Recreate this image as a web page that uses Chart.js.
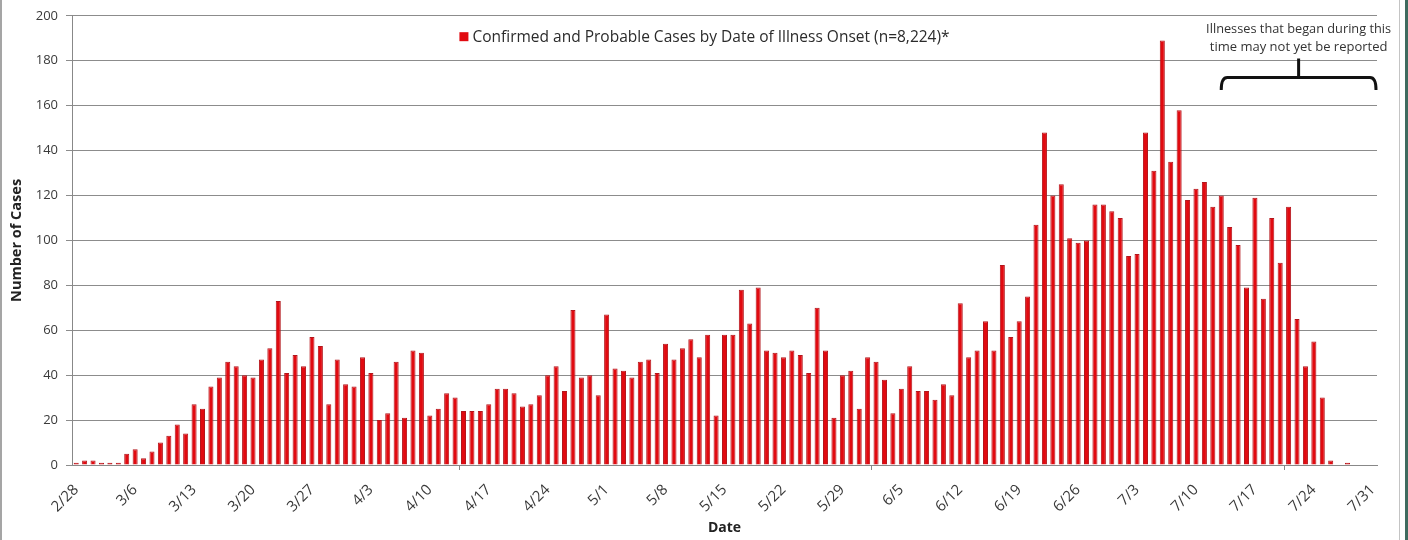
<!DOCTYPE html>
<html lang="en">
<head>
    <meta charset="UTF-8">
    <title>Confirmed and Probable Cases by Date of Illness Onset</title>
    <style>
        body { margin: 0; background: #fff; }
        .wrap { position: relative; width: 1408px; height: 540px; overflow: hidden; }
        .edge { position: absolute; top: 0; height: 540px; }
        .edge-l { left: 0; width: 2px; background: #a5a5a5; }
        .edge-r1 { left: 1399px; width: 1px; background: #c4c4c4; }
        .edge-r2 { left: 1405px; width: 3px; background: #3f6b5f; }
    </style>
</head>
<body>
<div class="wrap">
    <canvas id="chart"></canvas>
    <div class="edge edge-l"></div>
    <div class="edge edge-r1"></div>
    <div class="edge edge-r2"></div>
</div>

<script src="https://cdn.jsdelivr.net/npm/chart.js"></script>
<script>
    // dias 2/28 .. 7/31 (2020)
    const months = [['2', 28, 29], ['3', 1, 31], ['4', 1, 30], ['5', 1, 31], ['6', 1, 30], ['7', 1, 31]];
    const dates = [];
    for (const [m, a, b] of months) {
        for (let d = a; d <= b; d++) dates.push(m + '/' + d);
    }

    const cases = [
        1, 2, 2, 1, 1, 1, 5, 7, 3, 6, 10, 13, 18, 14, 27, 25, 35, 39, 46, 44,
        40, 39, 47, 52, 73, 41, 49, 44, 57, 53, 27, 47, 36, 35, 48, 41, 20, 23, 46, 21, 51, 50, 22, 25, 32, 30, 24,
        24, 24, 27, 34, 34, 32, 26, 27, 31, 40, 44, 33, 69, 39, 40, 31, 67, 43, 42, 39, 46, 47, 41, 54, 47, 52, 56, 48,
        58, 22, 58, 58, 78, 63, 79, 51, 50, 48, 51, 49, 41, 70, 51, 21, 40, 42, 25, 48, 46, 38, 23, 34, 44, 33, 33,
        29, 36, 31, 72, 48, 51, 64, 51, 89, 57, 64, 75, 107, 148, 120, 125, 101, 99, 100, 116, 116, 113, 110, 93, 94, 148, 131,
        189, 135, 158, 118, 123, 126, 115, 120, 106, 98, 79, 119, 74, 110, 90, 115, 65, 44, 55, 30, 2, 0, 1, 0, 0, 0
    ];

    const seriesLabel = 'Confirmed and Probable Cases by Date of Illness Onset (n=8,224)*';
    const noteLines = ['Illnesses that began during this', 'time may not yet be reported'];
    const noteFrom = '7/13';

    const RED = '#e10a10';

    // legenda e nota desenhadas dentro da area do grafico
    const overlay = {
        id: 'overlay',
        afterDraw(chart) {
            const {ctx, chartArea: area, scales: {x, y}} = chart;
            ctx.save();

            // legenda
            ctx.font = '15.5px "Open Sans", sans-serif';
            const tw = Math.min(ctx.measureText(seriesLabel).width, 482);
            const lx = (area.left + area.right) / 2 - 20 - (tw + 13) / 2;
            const ly = y.getPixelForValue(190.7);
            ctx.fillStyle = RED;
            ctx.fillRect(lx, ly - 4.5, 9, 9);
            ctx.fillStyle = '#2b2b2b';
            ctx.textBaseline = 'middle';
            ctx.fillText(seriesLabel, lx + 13, ly + 0.5, 482);

            // chave e texto
            const x1 = x.getPixelForValue(dates.indexOf(noteFrom));
            const x2 = area.right - 1;
            const xm = (x1 + x2) / 2;
            ctx.font = '13px "Open Sans", sans-serif';
            ctx.textAlign = 'center';
            ctx.fillStyle = '#333';
            ctx.fillText(noteLines[0], xm, y.getPixelForValue(194), 185);
            ctx.fillText(noteLines[1], xm, y.getPixelForValue(186), 181);

            const yh = y.getPixelForValue(172.5);
            const ye = y.getPixelForValue(167);
            ctx.strokeStyle = '#111';
            ctx.lineWidth = 3;
            ctx.beginPath();
            ctx.moveTo(x1, ye);
            ctx.quadraticCurveTo(x1, yh, x1 + 6, yh);
            ctx.lineTo(x2 - 6, yh);
            ctx.quadraticCurveTo(x2, yh, x2, ye);
            ctx.moveTo(xm, yh);
            ctx.lineTo(xm, y.getPixelForValue(181));
            ctx.stroke();
            ctx.restore();
        }
    };

    new Chart(document.getElementById('chart'), {
        type: 'bar',
        data: {
            labels: dates,
            datasets: [{
                label: seriesLabel,
                data: cases,
                backgroundColor: RED,
                borderColor: '#b3161c',
                borderWidth: {left: 1, right: 1, top: 1, bottom: 0},
                barPercentage: 0.6,
                categoryPercentage: 1
            }]
        },
        options: {
            responsive: true,
            maintainAspectRatio: false,
            animation: false,
            layout: {padding: {left: 2, right: 31, top: 15, bottom: 0}},
            plugins: {
                legend: {display: false},
                tooltip: {enabled: false}
            },
            scales: {
                x: {
                    offset: true,
                    afterFit: s => { s.height = 75; },
                    grid: {
                        offset: true,
                        drawOnChartArea: false,
                        drawTicks: true,
                        tickLength: 5,
                        color: c => (c.index % 7 === 0 ? '#888' : 'rgba(0,0,0,0)')
                    },
                    border: {color: '#888'},
                    ticks: {
                        autoSkip: false,
                        minRotation: 45,
                        maxRotation: 45,
                        padding: 11,
                        color: '#3a3a3a',
                        font: {family: '"Open Sans", sans-serif', size: 15},
                        callback: (v, i) => (i % 7 === 0 ? dates[i] : null)
                    },
                    title: {
                        display: true,
                        text: 'Date',
                        color: '#222',
                        font: {family: '"Open Sans", sans-serif', size: 14, weight: 'bold'},
                        padding: {top: 0, bottom: 4}
                    }
                },
                y: {
                    min: 0,
                    max: 200,
                    afterFit: s => { s.width = 70; },
                    grid: {color: '#8c8c8c', tickLength: 6},
                    border: {color: '#888'},
                    ticks: {
                        stepSize: 20,
                        padding: 8,
                        color: '#3a3a3a',
                        font: {family: '"Open Sans", sans-serif', size: 13}
                    },
                    title: {
                        display: true,
                        text: 'Number of Cases',
                        color: '#222',
                        font: {family: '"Open Sans", sans-serif', size: 14.5, weight: 'bold'},
                        padding: {top: 6, bottom: 0}
                    }
                }
            }
        },
        plugins: [overlay]
    });
</script>
</body>
</html>
